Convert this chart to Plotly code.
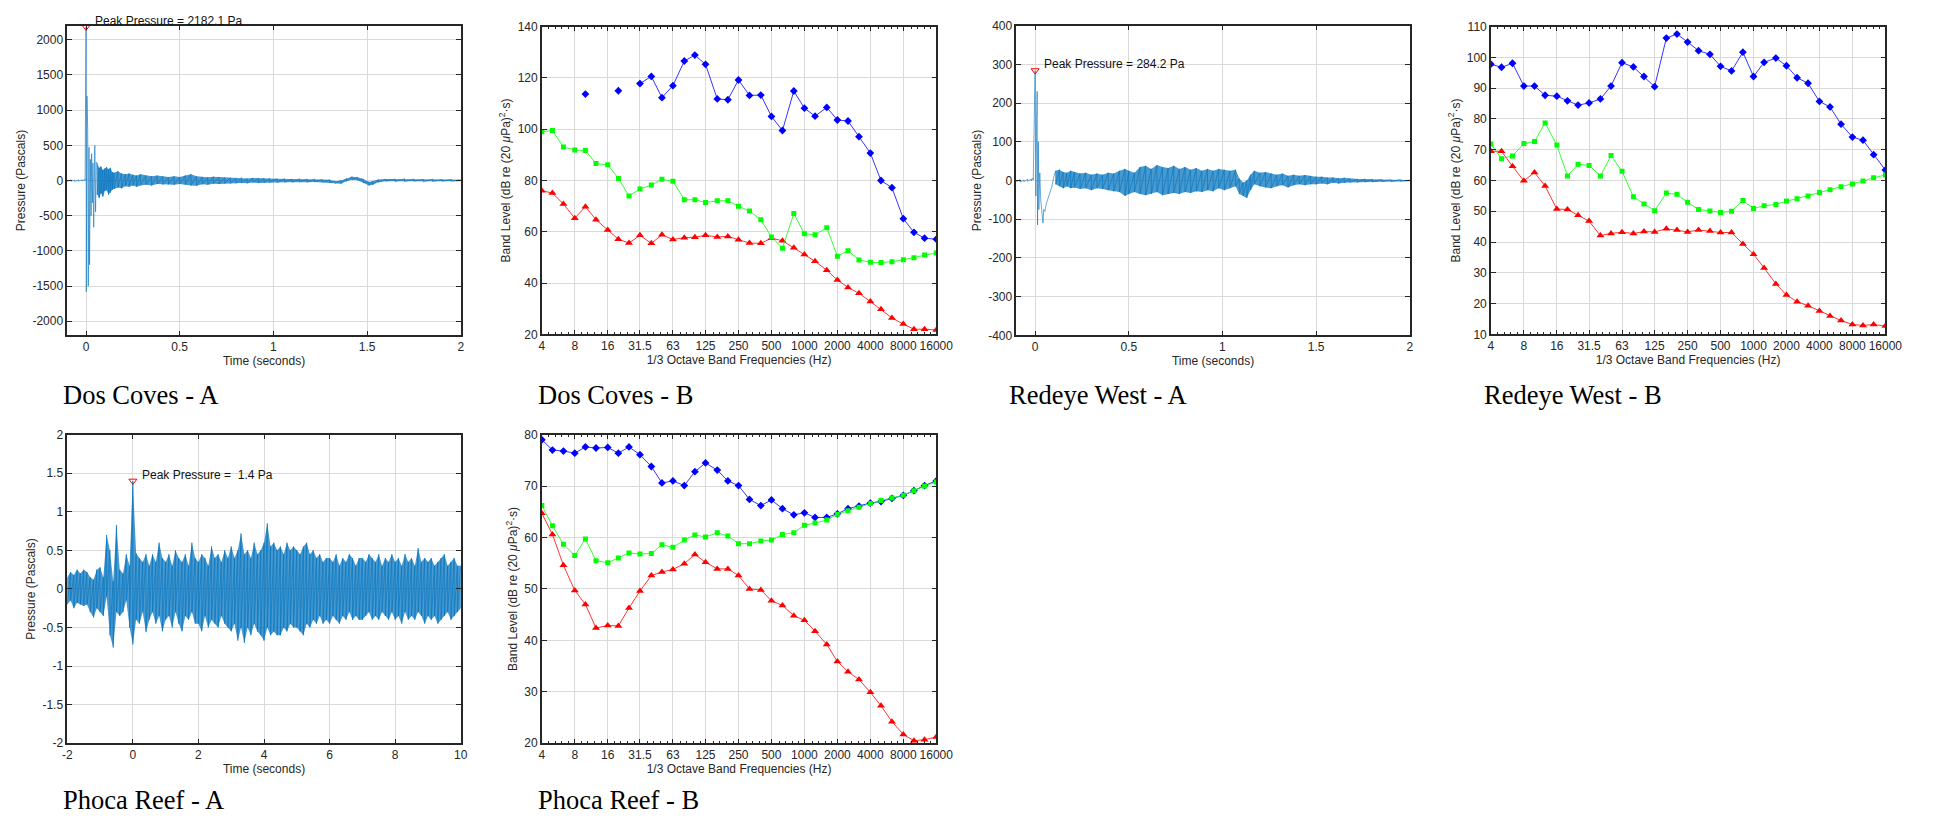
import math
import plotly.graph_objects as go

W, H = 1934, 824
SANS = "Liberation Sans, Arial, Helvetica, sans-serif"
SERIF = "Liberation Serif, Times New Roman, serif"

# ---------------- 1/3 octave band data ----------------
bands = [4, 5, 6.3, 8, 10, 12.5, 16, 20, 25, 31.5, 40, 50, 63, 80, 100, 125, 160, 200, 250,
         315, 400, 500, 630, 800, 1000, 1250, 1600, 2000, 2500, 3150, 4000, 5000, 6300, 8000,
         10000, 12500, 16000]
band_tickvals = [4, 8, 16, 31.5, 63, 125, 250, 500, 1000, 2000, 4000, 8000, 16000]
band_ticktext = ["4", "8", "16", "31.5", "63", "125", "250", "500", "1000", "2000", "4000", "8000", "16000"]

dc_blue = [None, None, None, None, 113.7, None, None, 115.0, None, 117.8, 120.6, 112.3, 117.0, 126.6,
           128.9, 125.3, 111.8, 111.5, 119.2, 113.2, 113.3, 105.0, 99.5, 114.9, 108.2, 105.1, 108.5,
           103.6, 103.2, 97.1, 90.7, 80.0, 77.2, 65.1, 59.8, 57.5, 57.1]
dc_green = [99.0, 99.5, 93.1, 91.9, 91.7, 86.6, 86.1, 80.8, 74.0, 76.7, 78.2, 80.5, 79.7, 72.5, 72.5,
            71.4, 72.1, 72.1, 70.0, 68.1, 64.7, 58.0, 53.6, 67.1, 59.2, 58.8, 61.6, 50.5, 52.6, 49.0,
            48.1, 48.0, 48.3, 49.1, 49.9, 50.9, 51.7]
dc_red = [76.0, 75.1, 70.8, 65.3, 69.8, 64.7, 60.7, 57.1, 55.6, 58.6, 55.5, 58.8, 57.0, 57.7, 57.9,
          58.6, 58.0, 58.2, 56.9, 55.6, 55.5, 57.5, 56.5, 53.8, 51.1, 48.5, 45.0, 41.2, 38.3, 36.0,
          32.8, 29.8, 26.4, 24.0, 22.0, 22.0, 21.7]

rw_blue = [97.8, 96.8, 98.1, 90.7, 90.7, 87.7, 87.4, 85.9, 84.5, 85.2, 86.5, 90.7, 98.3, 96.9, 93.8,
           90.5, 106.3, 107.6, 105.0, 102.2, 101.0, 97.1, 95.6, 101.7, 93.8, 98.4, 99.8, 97.3, 93.4,
           91.6, 85.7, 83.9, 78.3, 74.1, 73.1, 68.4, 63.4]
rw_green = [71.9, 67.1, 68.0, 72.0, 72.7, 78.7, 71.5, 61.5, 65.3, 64.9, 61.5, 68.1, 63.0, 54.7, 52.4,
            50.2, 55.9, 55.5, 52.9, 50.6, 50.1, 49.6, 50.0, 53.5, 50.9, 51.8, 52.2, 53.3, 54.1, 55.0,
            56.1, 57.0, 58.0, 58.9, 59.8, 60.9, 61.8]
rw_red = [69.5, 69.5, 64.6, 59.9, 62.6, 58.2, 50.7, 50.6, 48.7, 46.8, 42.1, 42.8, 43.2, 42.8, 43.4,
          43.3, 44.3, 43.9, 43.3, 43.9, 43.6, 43.1, 43.1, 39.4, 36.0, 31.6, 26.4, 22.8, 20.6, 19.3,
          17.6, 16.0, 14.5, 13.2, 12.9, 13.2, 12.7]

pr_blue = [79.0, 77.0, 76.8, 76.4, 77.6, 77.4, 77.5, 76.4, 77.6, 76.1, 73.8, 70.6, 71.0, 70.1, 72.8,
           74.5, 73.1, 71.0, 70.1, 67.4, 66.2, 67.3, 65.6, 64.4, 64.8, 63.9, 63.9, 64.6, 65.6, 66.1,
           66.7, 67.0, 67.6, 68.2, 69.1, 70.1, 71.0]
pr_green = [66.2, 62.3, 58.7, 56.5, 59.7, 55.5, 55.1, 56.0, 57.0, 56.8, 56.9, 58.6, 58.1, 59.5, 60.5,
            60.1, 60.9, 60.3, 58.8, 58.8, 59.3, 59.5, 60.6, 60.9, 62.4, 62.8, 63.4, 64.5, 65.2, 65.9,
            66.6, 67.2, 67.7, 68.2, 69.1, 70.0, 70.8]
pr_red = [64.7, 60.6, 54.6, 49.7, 47.0, 42.4, 42.9, 42.8, 46.3, 49.6, 52.6, 53.3, 53.8, 54.9, 56.7,
          55.2, 53.9, 53.9, 52.6, 50.0, 49.8, 47.7, 46.8, 44.8, 43.9, 41.8, 39.2, 35.9, 33.9, 32.4,
          29.9, 27.3, 24.2, 21.7, 20.5, 20.7, 21.2]

# ---------------- pressure waveforms (read envelopes) ----------------
dc_pre_t = [-0.1, -0.08, -0.06, -0.04, -0.02, -0.005]
dc_pre_hi = [5, 8, 6, 10, 12, 15]
dc_pre_lo = [-12, -10, -14, -10, -8, -5]
dc_spike_t = [0.0, 0.0015, 0.005, 0.009, 0.012, 0.016, 0.019, 0.023, 0.027, 0.030, 0.034, 0.037,
              0.041, 0.044, 0.047, 0.051, 0.055]
dc_spike_p = [2182.1, -1580, 1200, 728, -1500, 473, -1197, 300, -500, 380, -316, 250, -664, 200,
              497, -445, 260]
dc_t = [0.06, 0.07, 0.08, 0.09, 0.10, 0.11, 0.12, 0.13, 0.14, 0.15, 0.17, 0.19, 0.21, 0.23, 0.25,
        0.27, 0.29, 0.32, 0.35, 0.38, 0.41, 0.44, 0.47, 0.50, 0.53, 0.56, 0.59, 0.62, 0.65, 0.68,
        0.71, 0.74, 0.77, 0.80, 0.83, 0.86, 0.89, 0.92, 0.95, 0.98, 1.02, 1.06, 1.10, 1.14, 1.18,
        1.22, 1.26, 1.30, 1.33, 1.36, 1.39, 1.42, 1.45, 1.48, 1.51, 1.53, 1.56, 1.60, 1.65, 1.70,
        1.75, 1.80, 1.85, 1.90, 1.95, 2.00]
dc_hi = [250, 180, 200, 150, 170, 190, 160, 180, 120, 110, 130, 100, 90, 100, 80, 70, 90, 70, 60,
         70, 60, 50, 60, 50, 70, 90, 60, 50, 45, 55, 50, 45, 40, 35, 40, 30, 35, 30, 35, 30, 25, 25,
         20, 25, 20, 20, 15, 10, -10, 0, 30, 55, 45, 20, -20, -10, 15, 20, 20, 25, 20, 15, 20, 15,
         15, 10]
dc_lo = [-200, -250, -180, -230, -150, -140, -200, -170, -130, -120, -100, -110, -80, -90, -70, -90,
         -70, -60, -70, -50, -60, -55, -60, -50, -60, -70, -75, -55, -60, -45, -50, -40, -45, -40,
         -35, -40, -30, -35, -30, -25, -30, -25, -25, -20, -25, -20, -25, -30, -40, -45, -10, 10, 5,
         -30, -70, -60, -25, -10, -15, -15, -10, -20, -15, -10, -10, -10]
dc_peak = (0.0, 2182.1)

rw_pre_t = [-0.1, -0.08, -0.06, -0.04, -0.02, -0.01]
rw_pre_hi = [1, 2, 1, 3, 4, 6]
rw_pre_lo = [-3, -4, -3, -2, -1, 2]
rw_spike_t = [0.0, 0.004, 0.008, 0.011, 0.013, 0.017, 0.020, 0.025, 0.030, 0.036, 0.042, 0.046,
              0.052, 0.060, 0.070, 0.080, 0.090, 0.100]
rw_spike_p = [284.2, -40, 150, 230, -115, 100, -75, 20, -50, -90, -110, -75, -80, -60, -45, -30,
              -15, 10]
rw_t = [0.11, 0.13, 0.15, 0.17, 0.19, 0.21, 0.24, 0.27, 0.30, 0.33, 0.36, 0.39, 0.42, 0.45, 0.48,
        0.50, 0.53, 0.56, 0.59, 0.62, 0.65, 0.68, 0.71, 0.74, 0.77, 0.80, 0.83, 0.86, 0.89, 0.92,
        0.95, 0.98, 1.01, 1.04, 1.07, 1.09, 1.11, 1.13, 1.15, 1.17, 1.20, 1.23, 1.26, 1.29, 1.32,
        1.35, 1.38, 1.41, 1.44, 1.47, 1.50, 1.53, 1.56, 1.59, 1.62, 1.65, 1.68, 1.72, 1.76, 1.80,
        1.85, 1.90, 1.95, 2.00]
rw_hi = [25, 28, 22, 20, 25, 22, 18, 20, 15, 18, 15, 20, 18, 25, 30, 25, 20, 35, 38, 30, 40, 35, 32,
         38, 30, 35, 28, 32, 25, 30, 25, 30, 28, 25, 28, 5, -5, 0, 15, 25, 20, 22, 18, 15, 18, 12,
         15, 12, 14, 12, 10, 10, 8, 8, 6, 7, 5, 4, 4, 3, 3, 2, 2, 1]
rw_lo = [-10, -15, -20, -15, -20, -18, -22, -20, -25, -20, -22, -25, -28, -30, -40, -35, -30, -35,
         -38, -35, -30, -38, -35, -32, -35, -30, -32, -28, -30, -25, -28, -20, -25, -20, -15, -35,
         -40, -45, -25, -10, -15, -18, -20, -15, -12, -18, -12, -10, -12, -10, -10, -8, -10, -6, -8,
         -6, -5, -5, -4, -4, -3, -3, -2, -2]
rw_peak = (0.0, 284.2)

pr_t = [-2.0, -1.9, -1.8, -1.7, -1.6, -1.5, -1.4, -1.3, -1.2, -1.1,
        -1.0, -0.9, -0.8, -0.7, -0.6, -0.5, -0.4, -0.3, -0.2, -0.1,
        0.0, 0.1, 0.2, 0.3, 0.4, 0.5, 0.6, 0.7, 0.8, 0.9,
        1.0, 1.1, 1.2, 1.3, 1.4, 1.5, 1.6, 1.7, 1.8, 1.9,
        2.0, 2.1, 2.2, 2.3, 2.4, 2.5, 2.6, 2.7, 2.8, 2.9,
        3.0, 3.1, 3.2, 3.3, 3.4, 3.5, 3.6, 3.7, 3.8, 3.9,
        4.0, 4.1, 4.2, 4.3, 4.4, 4.5, 4.6, 4.7, 4.8, 4.9,
        5.0, 5.1, 5.2, 5.3, 5.4, 5.5, 5.6, 5.7, 5.8, 5.9,
        6.0, 6.1, 6.2, 6.3, 6.4, 6.5, 6.6, 6.7, 6.8, 6.9,
        7.0, 7.1, 7.2, 7.3, 7.4, 7.5, 7.6, 7.7, 7.8, 7.9,
        8.0, 8.1, 8.2, 8.3, 8.4, 8.5, 8.6, 8.7, 8.8, 8.9,
        9.0, 9.1, 9.2, 9.3, 9.4, 9.5, 9.6, 9.7, 9.8, 9.9, 10.0]
pr_hi = [0.15, 0.22, 0.18, 0.25, 0.2, 0.25, 0.22, 0.15, 0.12, 0.25,
         0.28, 0.15, 0.7, 0.5, 0.1, 0.83, 0.25, 0.2, 0.45, 0.3,
         1.4, 0.46, 0.4, 0.35, 0.45, 0.3, 0.45, 0.35, 0.6, 0.4,
         0.35, 0.45, 0.3, 0.5, 0.4, 0.35, 0.45, 0.3, 0.6, 0.4,
         0.35, 0.45, 0.4, 0.3, 0.55, 0.4, 0.45, 0.35, 0.5, 0.4,
         0.55, 0.4, 0.5, 0.72, 0.45, 0.5, 0.4, 0.6, 0.45, 0.5,
         0.6, 0.85, 0.55, 0.6, 0.5, 0.55, 0.45, 0.6, 0.5, 0.55,
         0.5, 0.45, 0.55, 0.6, 0.45, 0.5, 0.4, 0.45, 0.35, 0.4,
         0.4, 0.35, 0.45, 0.3, 0.4, 0.35, 0.45, 0.4, 0.3, 0.4,
         0.4, 0.35, 0.45, 0.4, 0.35, 0.45, 0.3, 0.4, 0.35, 0.45,
         0.35, 0.4, 0.3, 0.45, 0.35, 0.4, 0.3, 0.53, 0.35, 0.4,
         0.35, 0.4, 0.3, 0.35, 0.4, 0.45, 0.3, 0.35, 0.4, 0.3, 0.3]
pr_lo = [-0.2, -0.15, -0.25, -0.18, -0.2, -0.22, -0.2, -0.3, -0.37, -0.25,
         -0.3, -0.35, -0.1, -0.6, -0.76, -0.3, -0.35, -0.3, -0.15, -0.5,
         -0.72, -0.4, -0.45, -0.3, -0.56, -0.4, -0.3, -0.45, -0.35, -0.55,
         -0.4, -0.35, -0.5, -0.3, -0.45, -0.55, -0.35, -0.4, -0.3, -0.45,
         -0.45, -0.55, -0.35, -0.5, -0.4, -0.45, -0.5, -0.35, -0.45, -0.5,
         -0.55, -0.45, -0.67, -0.5, -0.7, -0.5, -0.6, -0.45, -0.55, -0.6,
         -0.67, -0.5, -0.6, -0.55, -0.6, -0.6, -0.5, -0.55, -0.45, -0.5,
         -0.5, -0.55, -0.6, -0.45, -0.5, -0.4, -0.45, -0.35, -0.45, -0.4,
         -0.45, -0.35, -0.4, -0.45, -0.35, -0.4, -0.3, -0.4, -0.35, -0.4,
         -0.4, -0.35, -0.3, -0.4, -0.35, -0.4, -0.3, -0.35, -0.4, -0.3,
         -0.4, -0.35, -0.45, -0.3, -0.4, -0.35, -0.4, -0.3, -0.35, -0.45,
         -0.35, -0.4, -0.35, -0.45, -0.4, -0.35, -0.3, -0.4, -0.35, -0.3, -0.25]
pr_peak = (0.0, 1.4)


def zigzag(t, hi, lo):
    xs, ys = [], []
    for a, b, c in zip(t, hi, lo):
        xs += [a, a]
        ys += [b, c]
    return xs, ys


def band(t, hi, lo):
    return list(t) + list(t)[::-1], list(hi) + list(lo)[::-1]


# ---------------- layout geometry (pixels) ----------------
panels = {
    1: (63, 461, 19, 334),    # Dos Coves A
    2: (543, 942, 20, 333),   # Dos Coves B
    3: (1023, 1421, 19, 334), # Redeye West A
    4: (1503, 1902, 20, 333), # Redeye West B
    5: (63, 461, 435, 749),   # Phoca Reef A
    6: (543, 942, 435, 749),  # Phoca Reef B
}

WAVE = "#0072BD"
WAVE_FILL = "rgba(0,114,189,0.72)"
fig = go.Figure()


def ax_names(n):
    return ("x" if n == 1 else f"x{n}"), ("y" if n == 1 else f"y{n}")


def add_wave(n, fills, segments, peak, ptext, tx, ty, yshift=0):
    xr, yr = ax_names(n)
    for fx, fy in fills:
        fig.add_trace(go.Scatter(x=fx, y=fy, mode="lines", fill="toself", fillcolor=WAVE_FILL,
                                 line=dict(width=0), xaxis=xr, yaxis=yr, showlegend=False,
                                 hoverinfo="skip"))
    xs, ys = [], []
    for sx, sy in segments:
        xs += sx
        ys += sy
    fig.add_trace(go.Scatter(x=xs, y=ys, mode="lines", line=dict(color=WAVE, width=0.6),
                             xaxis=xr, yaxis=yr, showlegend=False, hoverinfo="skip"))
    fig.add_trace(go.Scatter(x=[peak[0]], y=[peak[1]], mode="markers", cliponaxis=False,
                             marker=dict(symbol="triangle-down-open", color="#FF0000", size=7,
                                         line=dict(width=1)),
                             xaxis=xr, yaxis=yr, showlegend=False))
    fig.add_annotation(x=tx, y=ty, xref=xr, yref=yr, text=ptext, showarrow=False,
                       xanchor="left", yanchor="middle", yshift=yshift,
                       font=dict(family=SANS, size=12, color="#111111"))


def add_bands(n, blue, green, red):
    xr, yr = ax_names(n)
    fig.add_trace(go.Scatter(x=bands, y=blue, mode="lines+markers", connectgaps=False,
                             line=dict(color="#0000FF", width=0.8),
                             marker=dict(symbol="diamond", size=6, color="#0000FF"),
                             xaxis=xr, yaxis=yr, showlegend=False))
    fig.add_trace(go.Scatter(x=bands, y=red, mode="lines+markers",
                             line=dict(color="#FF0000", width=0.8),
                             marker=dict(symbol="triangle-up", size=7, color="#FF0000"),
                             xaxis=xr, yaxis=yr, showlegend=False))
    fig.add_trace(go.Scatter(x=bands, y=green, mode="lines+markers",
                             line=dict(color="#00FF00", width=0.8),
                             marker=dict(symbol="square", size=5, color="#00FF00"),
                             xaxis=xr, yaxis=yr, showlegend=False))


dc_segs = [zigzag(dc_pre_t, dc_pre_hi, dc_pre_lo), (dc_spike_t, dc_spike_p), zigzag(dc_t, dc_hi, dc_lo)]
rw_segs = [zigzag(rw_pre_t, rw_pre_hi, rw_pre_lo), (rw_spike_t, rw_spike_p), zigzag(rw_t, rw_hi, rw_lo)]
pr_segs = [zigzag(pr_t, pr_hi, pr_lo)]

add_wave(1, [band(dc_t, dc_hi, dc_lo)], dc_segs, dc_peak, "Peak Pressure = 2182.1 Pa",
         0.036, dc_peak[1], yshift=6)
add_bands(2, dc_blue, dc_green, dc_red)
add_wave(3, [band(rw_t, rw_hi, rw_lo)], rw_segs, rw_peak, "Peak Pressure = 284.2 Pa", 0.036, 301)
add_bands(4, rw_blue, rw_green, rw_red)
add_wave(5, [band(pr_t, pr_hi, pr_lo)], pr_segs, pr_peak, "Peak Pressure =\u00a0 1.4 Pa", 0.222, 1.478)
add_bands(6, pr_blue, pr_green, pr_red)

# ---------------- axes ----------------
AXC = "#262626"
GRID = "#dadada"


def common():
    return dict(showline=True, linecolor=AXC, linewidth=1.5, mirror="allticks", ticks="inside",
                ticklen=5, tickwidth=1, tickcolor=AXC, showgrid=True, gridcolor=GRID, gridwidth=1,
                zeroline=False, tickfont=dict(family=SANS, size=12, color=AXC))


def tlabel(v):
    return "%g" % v


minor_vals = [4 * 2 ** (k / 5) for k in range(61) if k % 5 != 0]

layout_axes = {}
for n, (x0, x1, y0, y1) in panels.items():
    xk = "xaxis" if n == 1 else f"xaxis{n}"
    yk = "yaxis" if n == 1 else f"yaxis{n}"
    xr, yr = ax_names(n)
    xa = common()
    ya = common()
    xa.update(domain=[x0 / W, x1 / W], anchor=yr)
    ya.update(domain=[1 - y1 / H, 1 - y0 / H], anchor=xr)
    if n in (1, 3, 5):
        xa["title"] = dict(text="Time (seconds)", standoff=3, font=dict(family=SANS, size=12, color=AXC))
        ya["title"] = dict(text="Pressure (Pascals)", standoff=4, font=dict(family=SANS, size=12, color=AXC))
        if n == 5:
            xv = [-2, 0, 2, 4, 6, 8, 10]
            xa.update(range=[-2, 10])
            yv = [-2, -1.5, -1, -0.5, 0, 0.5, 1, 1.5, 2]
            ya.update(range=[-2, 2])
        else:
            xv = [0, 0.5, 1, 1.5, 2]
            xa.update(range=[-0.1, 2])
            if n == 1:
                yv = [-2000, -1500, -1000, -500, 0, 500, 1000, 1500, 2000]
                ya.update(range=[-2200, 2200])
            else:
                yv = [-400, -300, -200, -100, 0, 100, 200, 300, 400]
                ya.update(range=[-400, 400])
        xa.update(tickmode="array", tickvals=xv, ticktext=[tlabel(v) for v in xv])
        ya.update(tickmode="array", tickvals=yv, ticktext=[tlabel(v) for v in yv])
    else:
        xa.update(type="log", range=[math.log10(4), math.log10(16000)], tickmode="array",
                  tickvals=band_tickvals, ticktext=band_ticktext,
                  minor=dict(tickmode="array", tickvals=minor_vals, ticks="inside", ticklen=3,
                             tickcolor=AXC, showgrid=False))
        xa["title"] = dict(text="1/3 Octave Band Frequencies (Hz)", standoff=3,
                           font=dict(family=SANS, size=12, color=AXC))
        ya["title"] = dict(text="Band Level (dB re (20 <i>μ</i>Pa)<sup>2</sup>·s)", standoff=4,
                           font=dict(family=SANS, size=12, color=AXC))
        if n == 2:
            yv = [20, 40, 60, 80, 100, 120, 140]
            ya.update(range=[20, 140])
        elif n == 4:
            yv = [10, 20, 30, 40, 50, 60, 70, 80, 90, 100, 110]
            ya.update(range=[10, 110])
        else:
            yv = [20, 30, 40, 50, 60, 70, 80]
            ya.update(range=[20, 80])
        ya.update(tickmode="array", tickvals=yv, ticktext=[tlabel(v) for v in yv])
    layout_axes[xk] = xa
    layout_axes[yk] = ya

fig.update_layout(**layout_axes)

# ---------------- captions ----------------
captions = [("Dos Coves - A", 57, 395), ("Dos Coves - B", 537, 395),
            ("Redeye West - A", 1014, 395), ("Redeye West - B", 1494, 395),
            ("Phoca Reef - A", 57, 807), ("Phoca Reef - B", 537, 807)]
for txt, px, py in captions:
    fig.add_annotation(x=px / W, y=1 - py / H, xref="paper", yref="paper", text=txt,
                       showarrow=False, xanchor="left", yanchor="middle",
                       font=dict(family=SERIF, size=26.5, color="#000000"))

fig.update_layout(width=W, height=H, margin=dict(l=0, r=0, t=0, b=0),
                  paper_bgcolor="white", plot_bgcolor="white", showlegend=False)

fig.write_html("out.html", config={"displayModeBar": False},
               post_script="document.body.style.margin='0';document.body.style.overflow='hidden';")
